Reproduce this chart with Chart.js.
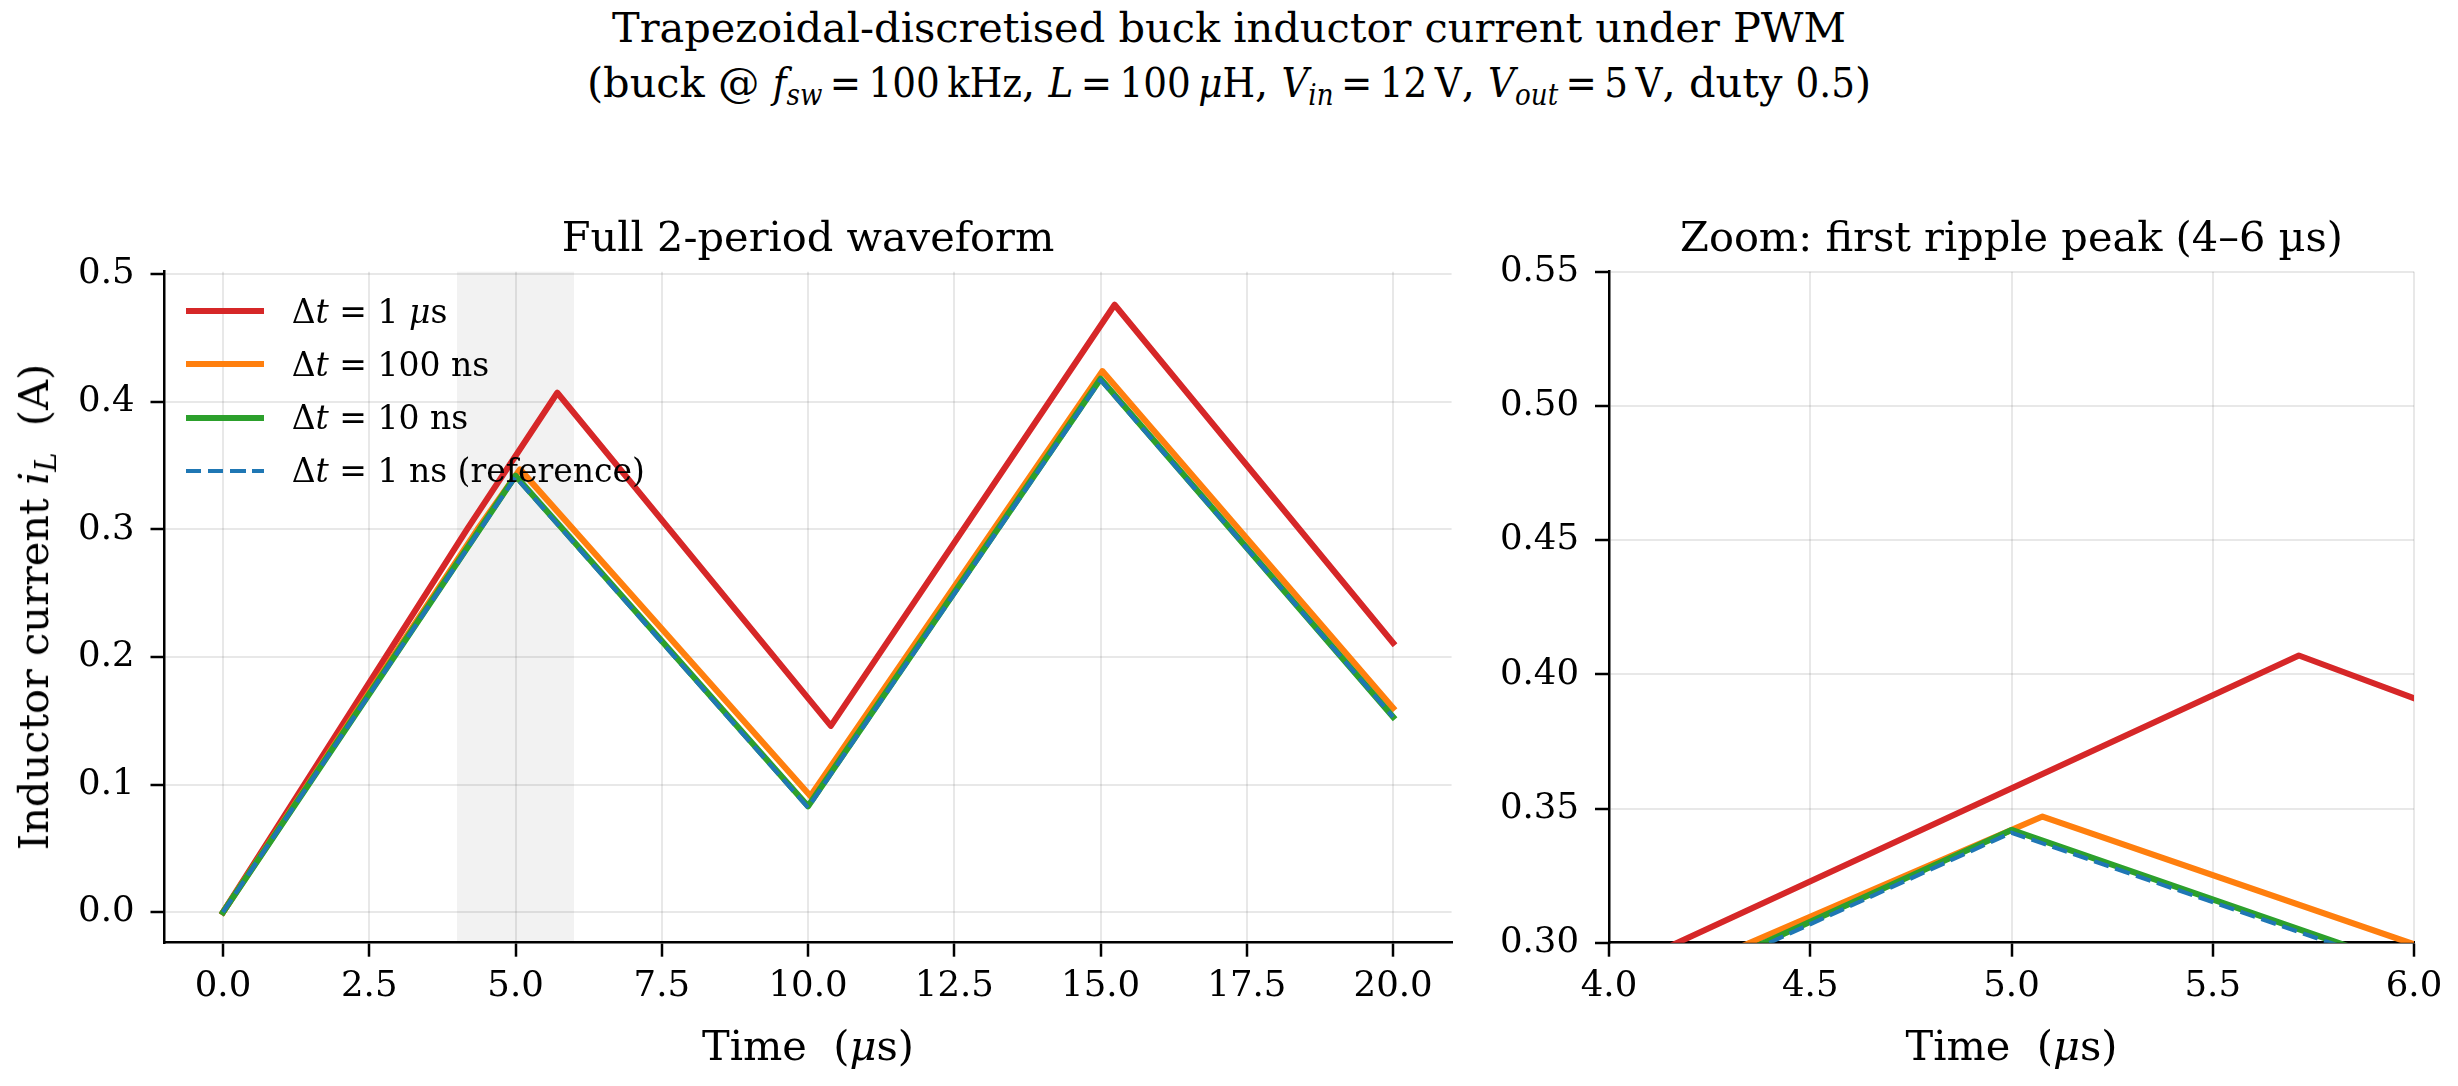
<!DOCTYPE html>
<html>
<head>
<meta charset="utf-8">
<script src="https://cdn.jsdelivr.net/npm/chart.js@4/dist/chart.umd.min.js"></script>
<style>
  body { margin: 0; background: #fff; }
  #fig { position: relative; width: 2458px; height: 1086px; overflow: hidden;
         font-family: 'DejaVu Serif', serif; color: #000; background: #fff; }
  .box { position: absolute; top: 0; height: 1086px; }
  .txt { position: absolute; font-size: 41.5px; line-height: 46px; white-space: nowrap; }
  sub { font-size: 0.7em; vertical-align: -0.28em; line-height: 0; }
  .m { font-family: 'DejaVu Serif Condensed', 'DejaVu Serif', serif; font-stretch: condensed; }
  .xlab { top: 1022.6px; transform: translateX(-50%); }
  #ylabel { left: 34px; top: 607px; transform: translate(-50%, -50%) rotate(-90deg); }
  #legend { position: absolute; left: 186px; top: 284.4px; font-size: 33px; }
  .row { display: flex; align-items: center; height: 53.3px; white-space: nowrap; }
  .swatch { width: 78px; margin-right: 27.7px; }
</style>
</head>
<body>
<div id="fig">
  <div class="txt" style="left:0;width:2458px;top:0;text-align:center;line-height:55px">
    Trapezoidal-discretised buck inductor current under PWM<br>
    (buck @ <span class="m"><i>f</i><sub><i>sw</i></sub>&thinsp;=&thinsp;100&thinsp;kHz</span>, <span class="m"><i>L</i>&thinsp;=&thinsp;100&thinsp;<i>μ</i>H</span>, <span class="m"><i>V</i><sub><i>in</i></sub>&thinsp;=&thinsp;12&thinsp;V</span>, <span class="m"><i>V</i><sub><i>out</i></sub>&thinsp;=&thinsp;5&thinsp;V</span>, duty <span class="m">0.5</span>)
  </div>
  <div class="box" style="left:0;width:1460px"><canvas id="fullChart"></canvas></div>
  <div class="box" style="left:1460px;width:998px"><canvas id="zoomChart"></canvas></div>
  <div class="txt" id="ylabel">Inductor current <i>i</i><sub><i>L</i></sub>&nbsp; (A)</div>
  <div class="txt xlab" style="left:808px">Time&nbsp; (<i>μ</i>s)</div>
  <div class="txt xlab" style="left:2011.5px">Time&nbsp; (<i>μ</i>s)</div>
  <div id="legend"></div>
</div>
<script>
// points of each waveform (time in µs, current in A)
const t_1us   = [0, 4.17, 5.714, 10.39, 15.24, 20.0];
const iL_1us  = [0, 0.300, 0.407, 0.146, 0.476, 0.211];
const t_100ns  = [0, 4.35, 5.077, 10.04, 15.03, 20.0];
const iL_100ns = [0, 0.300, 0.347, 0.091, 0.424, 0.160];
const t_10ns  = [0, 5.0, 10.0, 15.0, 20.0];
const iL_10ns = [0, 0.342, 0.083, 0.418, 0.153];
const t_1ns  = [0, 5.0, 10.0, 15.0, 20.0];
const iL_1ns = [0, 0.341, 0.082, 0.417, 0.153];

const seriesNames = ['Δt = 1 μs', 'Δt = 100 ns', 'Δt = 10 ns', 'Δt = 1 ns (reference)'];
const legendHtml = ['Δ<i>t</i> = 1 <i>μ</i>s', 'Δ<i>t</i> = 100 ns', 'Δ<i>t</i> = 10 ns', 'Δ<i>t</i> = 1 ns (reference)'];

const fullXTicks = [0, 2.5, 5, 7.5, 10, 12.5, 15, 17.5, 20];
const fullYTicks = [0, 0.1, 0.2, 0.3, 0.4, 0.5];
const zoomXTicks = [4, 4.5, 5, 5.5, 6];
const zoomYTicks = [0.30, 0.35, 0.40, 0.45, 0.50, 0.55];
const zoomWindow = [4, 6];

Chart.defaults.font.family = "'DejaVu Serif', serif";
Chart.defaults.color = '#000';

const styles = [
  { color: '#d62728', width: 6.1, dash: [] },
  { color: '#ff7f0e', width: 6.1, dash: [] },
  { color: '#2ca02c', width: 6.1, dash: [] },
  { color: '#1f77b4', width: 4.2, dash: [15.4, 6.7] },
];
const times = [t_1us, t_100ns, t_10ns, t_1ns];
const currents = [iL_1us, iL_100ns, iL_10ns, iL_1ns];

function buildDatasets() {
  return seriesNames.map((name, k) => ({
    label: name,
    data: times[k].map((t, i) => ({ x: t, y: currents[k][i] })),
    borderColor: styles[k].color,
    borderWidth: styles[k].width,
    borderDash: styles[k].dash,
    borderCapStyle: styles[k].dash.length ? 'butt' : 'square',
    borderJoinStyle: 'round',
    pointRadius: 0,
    tension: 0,
    fill: false,
    clip: 0,
    order: 3 - k, // matplotlib draws later series on top
  }));
}

// grey band marking the zoomed window
const spanPlugin = {
  id: 'zoomSpan',
  beforeDraw(chart) {
    const { ctx, chartArea, scales } = chart;
    const x0 = scales.x.getPixelForValue(zoomWindow[0]);
    const x1 = scales.x.getPixelForValue(zoomWindow[1]);
    ctx.save();
    ctx.fillStyle = 'rgba(128,128,128,0.1)';
    ctx.fillRect(x0, chartArea.top, x1 - x0, chartArea.bottom - chartArea.top);
    ctx.restore();
  }
};

const gridOpts = { color: 'rgba(0,0,0,0.09)', lineWidth: 2, drawTicks: true,
                   tickLength: 14, tickColor: '#000', tickWidth: 2.5 };
const borderOpts = { display: true, color: '#000', width: 2.5 };

function makeChart(id, o) {
  return new Chart(document.getElementById(id), {
    type: 'line',
    data: { datasets: buildDatasets() },
    plugins: o.plugins || [],
    options: {
      responsive: true,
      maintainAspectRatio: false,
      animation: false,
      devicePixelRatio: 1,
      layout: { padding: { left: 0, right: o.padRight, top: 200, bottom: 0 } },
      plugins: {
        legend: { display: false },
        tooltip: { enabled: false },
        title: {
          display: true, text: o.title, fullSize: false, color: '#000',
          font: { size: 41.5, weight: 'normal' },
          padding: { top: 15.1, bottom: 6.8 }
        }
      },
      scales: {
        x: {
          type: 'linear', min: o.xRange[0], max: o.xRange[1],
          afterFit: s => { s.height = 143.3; },
          afterBuildTicks: s => { s.ticks = o.xTicks.map(v => ({ value: v })); },
          ticks: { callback: v => v.toFixed(1), padding: 9, font: { size: 35.5 },
                   color: '#000', maxRotation: 0, autoSkip: false },
          grid: gridOpts, border: borderOpts
        },
        y: {
          type: 'linear', min: o.yRange[0], max: o.yRange[1],
          afterFit: s => { s.width = o.yWidth; },
          afterBuildTicks: s => { s.ticks = o.yTicks.map(v => ({ value: v })); },
          ticks: { callback: v => v.toFixed(o.yDec), padding: 16, font: { size: 35.5 },
                   color: '#000', autoSkip: false },
          grid: gridOpts, border: borderOpts
        }
      }
    }
  });
}

makeChart('fullChart', {
  title: 'Full 2-period waveform',
  xRange: [-1, 21], yRange: [-0.0239, 0.5019],
  xTicks: fullXTicks, yTicks: fullYTicks, yDec: 1,
  yWidth: 164.5, padRight: 8.4, plugins: [spanPlugin]
});

makeChart('zoomChart', {
  title: 'Zoom: first ripple peak (4–6 µs)',
  xRange: zoomWindow, yRange: [0.30, 0.55],
  xTicks: zoomXTicks, yTicks: zoomYTicks, yDec: 2,
  yWidth: 149, padRight: 44
});

// legend inside the left panel, no frame
const legend = document.getElementById('legend');
legendHtml.forEach((html, k) => {
  const row = document.createElement('div');
  row.className = 'row';
  const sw = document.createElement('span');
  sw.className = 'swatch';
  sw.style.height = styles[k].width + 'px';
  if (styles[k].dash.length) {
    const [d, g] = styles[k].dash;
    sw.style.background = `repeating-linear-gradient(90deg, ${styles[k].color} 0 ${d}px, transparent ${d}px ${d + g}px)`;
  } else {
    sw.style.background = styles[k].color;
  }
  const tx = document.createElement('span');
  tx.innerHTML = html;
  row.appendChild(sw);
  row.appendChild(tx);
  legend.appendChild(row);
});
</script>
</body>
</html>
